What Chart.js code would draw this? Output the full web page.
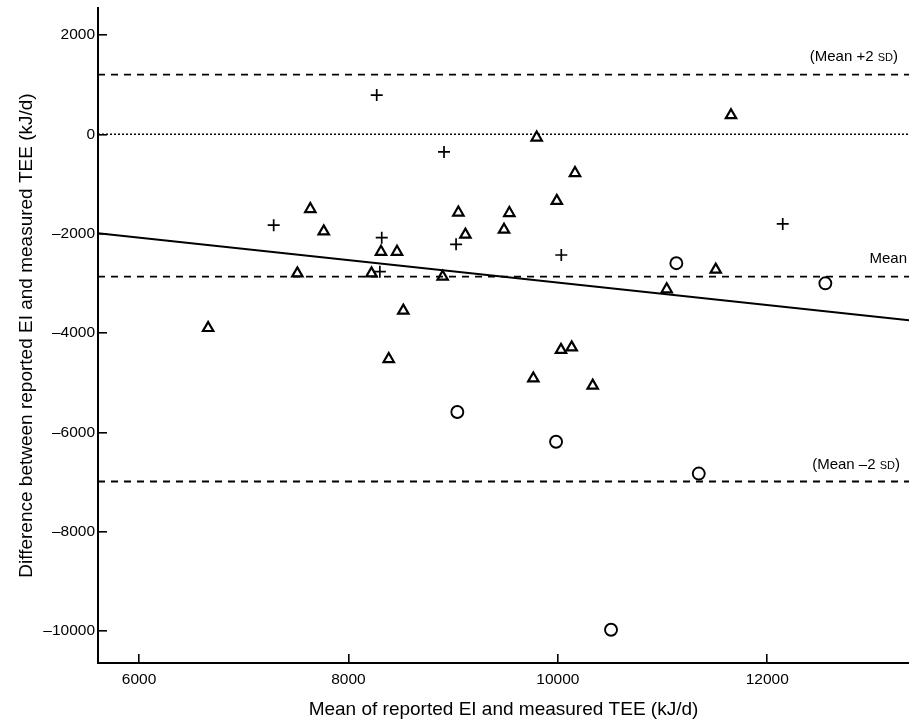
<!DOCTYPE html>
<html>
<head>
<meta charset="utf-8">
<script src="https://cdn.jsdelivr.net/npm/chart.js@4.4.1/dist/chart.umd.min.js"></script>
<style>
html,body{margin:0;padding:0;background:#fff;}
canvas{display:block;}
</style>
</head>
<body>
<canvas id="c" width="909" height="723"></canvas>
<script>
// ---- data ----
const triX = [7636, 7764, 8311, 8464, 7512, 8220, 8524, 6660, 9798, 10164, 9990, 9050, 9537, 9486, 9117, 8900, 11040, 11654, 11508, 8385, 10030, 10132, 9766, 10333];
const triY = [-1505, -1955, -2365, -2365, -2800, -2800, -3550, -3900, -65, -780, -1340, -1575, -1585, -1920, -2020, -2867, -3120, 385, -2725, -4525, -4340, -4290, -4915, -5060];
const plusX = [8270, 7286, 8318, 8300, 8913, 9028, 10033, 12148];
const plusY = [790, -1830, -2080, -2765, -355, -2215, -2430, -1805];
const circX = [11132, 12555, 9040, 9983, 11346, 10508];
const circY = [-2595, -3000, -5590, -6190, -6830, -9975];
const regX = [5608, 13354];
const regY = [-1992, -3745];
const meanDiff = -2865;
const upperLoA = 1200;
const lowerLoA = -6990;
const xRange = [5608, 13354];
const yRange = [-10644, 2543];
const xTicks = [6000, 8000, 10000, 12000];
const xTickLabels = ['6000', '8000', '10000', '12000'];
const yTicks = [2000, 0, -2000, -4000, -6000, -8000, -10000];
const yTickLabels = ['2000', '0', '\u20132000', '\u20134000', '\u20136000', '\u20138000', '\u201310000'];
const xTitle = 'Mean of reported EI and measured TEE (kJ/d)';
const yTitle = 'Difference between reported EI and measured TEE (kJ/d)';

const FONT = "'Liberation Sans', Arial, Helvetica, sans-serif";

function pts(xs, ys) { return xs.map((x, i) => ({x: x, y: ys[i]})); }
function hline(v) { return [{x: xRange[0], y: v}, {x: xRange[1], y: v}]; }
function zeroPad(s) { s.paddingTop = 0; s.paddingBottom = 0; s.paddingLeft = 0; s.paddingRight = 0; }

const annotations = {
  id: 'annot',
  afterDatasetsDraw(chart) {
    const ctx = chart.ctx;
    const ys = chart.scales.y;
    const right = chart.chartArea.right;
    ctx.save();
    ctx.fillStyle = '#000';
    ctx.textBaseline = 'middle';
    function sdLabel(prefix, yPix, rightEdge) {
      const big = '15px ' + FONT, small = '11px ' + FONT;
      ctx.font = big; const w1 = ctx.measureText(prefix).width; const w3 = ctx.measureText(')').width;
      ctx.font = small; const w2 = ctx.measureText('SD').width;
      let x = rightEdge - (w1 + w2 + w3);
      ctx.textAlign = 'left';
      ctx.font = big; ctx.fillText(prefix, x, yPix); x += w1;
      ctx.font = small; ctx.fillText('SD', x, yPix + 1); x += w2;
      ctx.font = big; ctx.fillText(')', x, yPix);
    }
    sdLabel('(Mean +2 ', ys.getPixelForValue(upperLoA) - 18, right - 11);
    sdLabel('(Mean \u20132 ', ys.getPixelForValue(lowerLoA) - 17, right - 9);
    ctx.font = '15px ' + FONT;
    ctx.textAlign = 'right';
    ctx.fillText('Mean', right - 2, ys.getPixelForValue(meanDiff) - 18);
    ctx.restore();
  }
};

new Chart(document.getElementById('c'), {
  type: 'scatter',
  data: {
    datasets: [
      {data: hline(upperLoA), showLine: true, pointRadius: 0, borderColor: '#000', borderWidth: 1.8, borderDash: [7, 6], fill: false},
      {data: hline(0), showLine: true, pointRadius: 0, borderColor: '#000', borderWidth: 1.6, borderDash: [2, 2], fill: false},
      {data: hline(meanDiff), showLine: true, pointRadius: 0, borderColor: '#000', borderWidth: 1.8, borderDash: [7, 6], fill: false},
      {data: hline(lowerLoA), showLine: true, pointRadius: 0, borderColor: '#000', borderWidth: 1.8, borderDash: [7, 6], fill: false},
      {data: pts(regX, regY), showLine: true, pointRadius: 0, borderColor: '#000', borderWidth: 2, fill: false},
      {data: pts(triX, triY), pointStyle: 'triangle', pointRadius: 6, borderColor: '#000', backgroundColor: 'rgba(0,0,0,0)', borderWidth: 2.2},
      {data: pts(plusX, plusY), pointStyle: 'cross', pointRadius: 6, borderColor: '#000', borderWidth: 1.7},
      {data: pts(circX, circY), pointStyle: 'circle', pointRadius: 6, borderColor: '#000', backgroundColor: 'rgba(0,0,0,0)', borderWidth: 1.9}
    ]
  },
  options: {
    responsive: false,
    devicePixelRatio: 1,
    animation: false,
    layout: {autoPadding: false, padding: {top: 8, right: 0, left: 0, bottom: 0}},
    plugins: {legend: {display: false}, tooltip: {enabled: false}},
    elements: {point: {hoverRadius: 6}},
    scales: {
      x: {
        type: 'linear',
        min: xRange[0], max: xRange[1],
        afterBuildTicks(s) { s.ticks = xTicks.map(v => ({value: v})); },
        afterFit(s) { s.height = 60; zeroPad(s); },
        ticks: {
          callback: (v) => { const i = xTicks.indexOf(v); return i >= 0 ? xTickLabels[i] : ''; },
          color: '#000', font: {family: FONT, size: 15.5}, padding: 16, maxRotation: 0, autoSkip: false
        },
        grid: {drawOnChartArea: false, drawTicks: true, tickLength: -9, color: '#000', lineWidth: 1.6},
        border: {display: true, color: '#000', width: 2},
        title: {display: true, text: xTitle, color: '#000', font: {family: FONT, size: 19}, padding: {top: 0, bottom: 2}}
      },
      y: {
        type: 'linear',
        min: yRange[0], max: yRange[1],
        afterBuildTicks(s) { s.ticks = yTicks.map(v => ({value: v})); },
        afterFit(s) { s.width = 98; zeroPad(s); },
        ticks: {
          callback: (v) => { const i = yTicks.indexOf(v); return i >= 0 ? yTickLabels[i] : ''; },
          color: '#000', font: {family: FONT, size: 15.5}, padding: 12, autoSkip: false
        },
        grid: {drawOnChartArea: false, drawTicks: true, tickLength: -9, color: '#000', lineWidth: 1.6},
        border: {display: true, color: '#000', width: 2},
        title: {display: true, text: yTitle, color: '#000', font: {family: FONT, size: 19}, padding: {top: 15, bottom: 0}}
      }
    }
  },
  plugins: [annotations]
});
</script>
</body>
</html>
